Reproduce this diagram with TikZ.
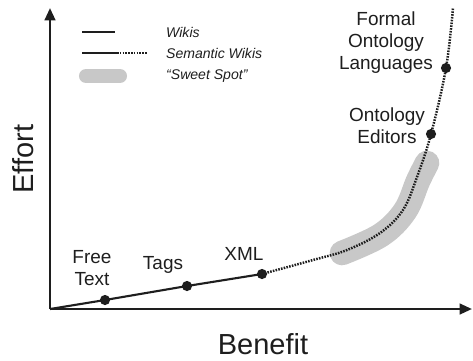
\documentclass[tikz,border=0pt]{standalone}
\usepackage{fontspec}
\setmainfont{Liberation Sans}
\usepackage{tikz}
\usetikzlibrary{arrows.meta}
\usetikzlibrary{positioning}
\definecolor{bandgray}{RGB}{200,200,200}
\definecolor{inkgray}{RGB}{30,30,30}
\tikzset{
    >={Triangle[length=7pt,width=6pt]},
    axis/.style={draw=inkgray, line width=1.4pt},
    wiki/.style={draw=inkgray, line width=1.2pt},
    semwiki/.style={draw=inkgray, line width=1.4pt, dash pattern=on 0.9pt off 0.7pt},
    sweet/.style={draw=bandgray, line width=14pt, line cap=round, line join=round},
    dot/.style={circle, fill=inkgray, inner sep=0pt, minimum size=5.8pt},
    lbl/.style={text=inkgray, font=\fontsize{10.8}{12.5}\selectfont, align=center},
    legend/.style={text=inkgray, font=\fontsize{8}{9}\selectfont\itshape, anchor=west},
    axislbl/.style={text=inkgray, font=\fontsize{16.5}{18}\selectfont},
}

\begin{document}
\begin{tikzpicture}[x=0.02cm, y=-0.02cm]
\useasboundingbox (0,0) rectangle (473,360);

% axes
\coordinate (o) at (50,309);
\coordinate (ytip) at (50,8);
\coordinate (xtip) at (472,309);
\draw[axis,->] (o) -- (ytip);
\draw[axis,->] (o) -- (xtip);
\node[axislbl, rotate=90] (effort) at (23,159) {Effort};
\node[axislbl] (benefit) at (263,344) {Benefit};

% legend
\coordinate (wa) at (82,32);
\coordinate (wb) at (115,32);
\coordinate (sa) at (82,53);
\coordinate (sb) at (117,53);
\coordinate (sc) at (147,53);
\coordinate (pa) at (86,76);
\coordinate (pb) at (120,76);
\draw[wiki] (wa) -- (wb);
\draw[wiki] (sa) -- (sb);
\draw[semwiki, line width=1pt] (sb) -- (sc);
\draw[sweet, line width=8pt] (pa) -- (pb);
\node[legend] (lwiki) at (160,32) {Wikis};
\node[legend] (lsem) at (160,53) {Semantic Wikis};
\node[legend] (lsweet) at (160,76) {``Sweet Spot''};

% sweet spot
\coordinate (ssa) at (342,253);
\coordinate (ssb) at (427,163);
\draw[sweet] plot[smooth, tension=0.6] coordinates {(ssa) (381,235) (405,211) (418,181) (ssb)};

% points
\node[dot] (free) at (105,300) {};
\node[dot] (tags) at (187,286) {};
\node[dot] (xml) at (262,274) {};
\node[dot] (editors) at (431,134) {};
\node[dot] (lang) at (446,68) {};
\coordinate (top) at (453,8);

\draw[wiki] (o) -- (free.center) -- (tags.center) -- (xml.center);
\draw[semwiki] plot[smooth, tension=0.6] coordinates {(xml.center) (313,260) (347,250)
    (380,233) (403,210) (417,177) (editors.center) (lang.center) (top)};

\node[lbl] (lfree) at (92,268) {Free\\Text};
\node[lbl] (ltags) at (163,265) {Tags};
\node[lbl] (lxml) at (244,254) {XML};
\node[lbl] (leditors) at (387,126) {Ontology\\Editors};
\node[lbl] (llang) at (386,43) {Formal\\Ontology\\Languages};
\end{tikzpicture}
\end{document}
